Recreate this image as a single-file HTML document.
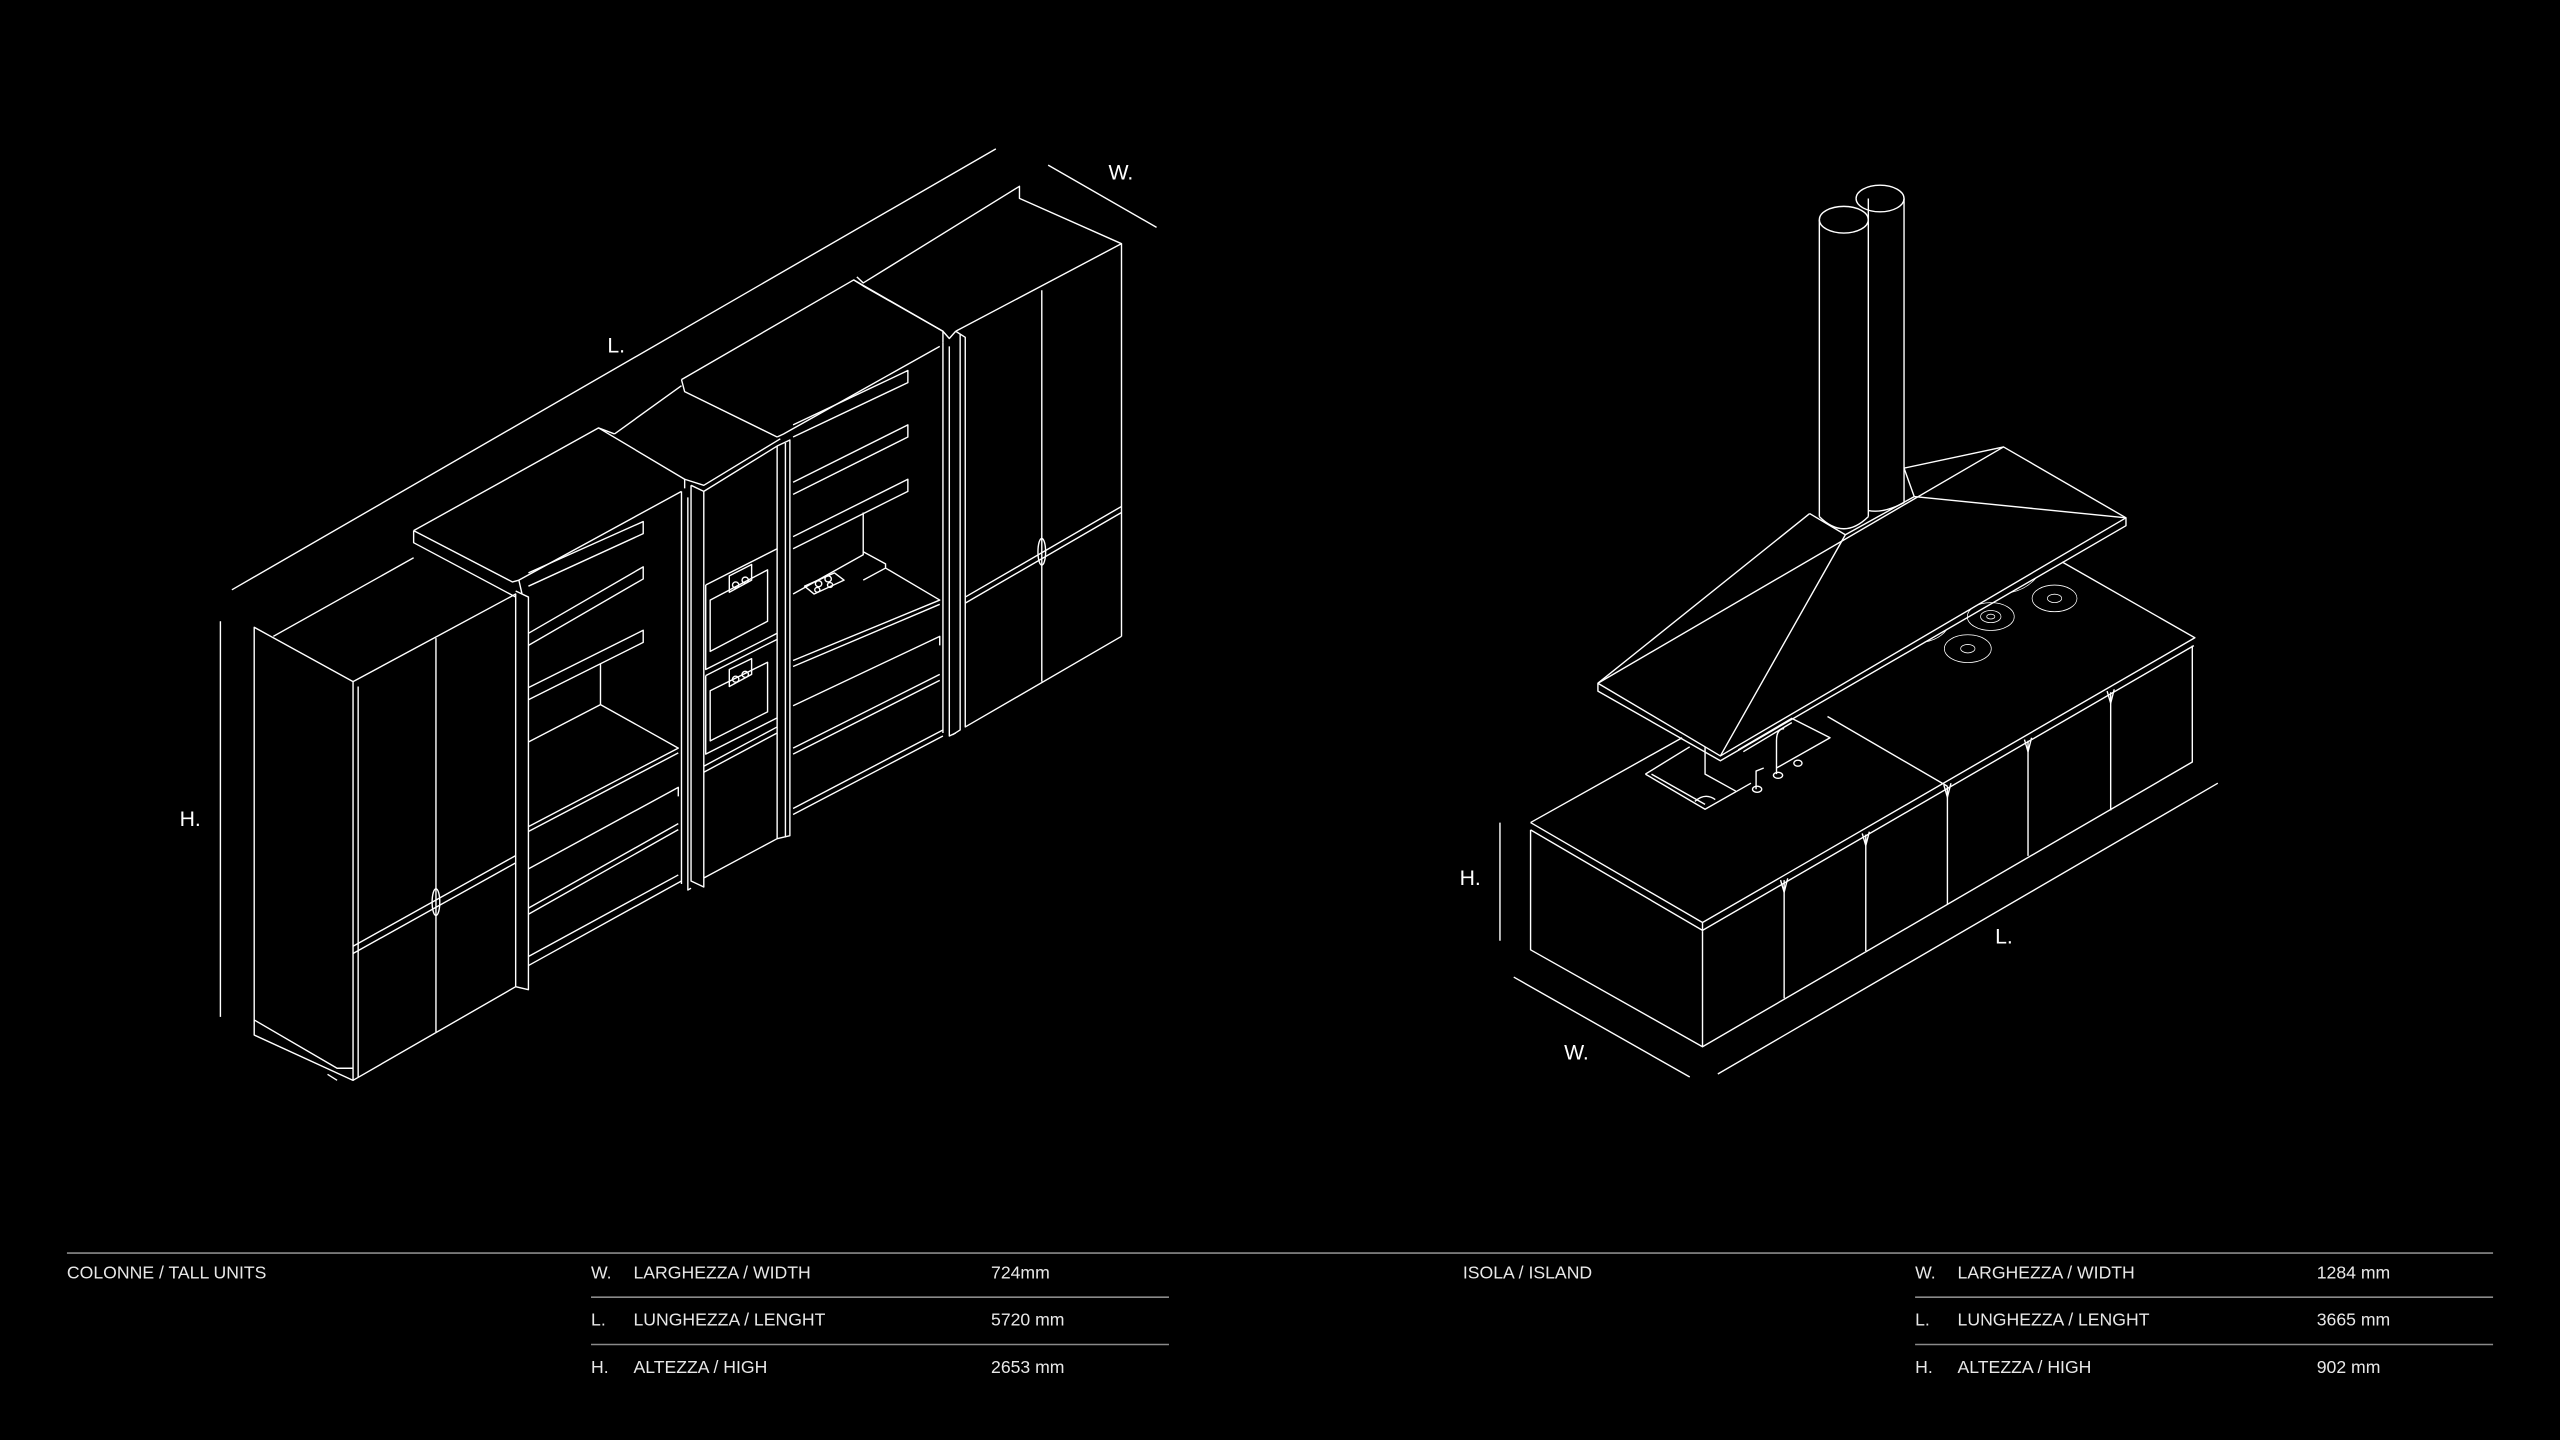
<!DOCTYPE html>
<html><head><meta charset="utf-8"><style>
html,body{margin:0;padding:0;background:#000;width:2560px;height:1440px;overflow:hidden}
svg{display:block}
.l{fill:none;stroke:#fff;stroke-width:1.4;vector-effect:non-scaling-stroke;stroke-linejoin:round}
.t{fill:#fff;font-family:"Liberation Sans",sans-serif}
.tb{fill:#e8e8e8;font-family:"Liberation Sans",sans-serif;font-size:10.8px;letter-spacing:0}
.g{stroke:#8a8a8a;stroke-width:1.6;vector-effect:non-scaling-stroke}
</style></head><body>
<svg width="2560" height="1440" viewBox="0 0 1568 882" xmlns="http://www.w3.org/2000/svg">
<rect width="1568" height="882" fill="#000"/>

<g transform="translate(122.5,91.9) scale(0.3906,0.370)">
 <path class="l" d="M50 728 L1248 -2 M1330 25 L1500 128 M32 780 L32 1435"/>
 <path class="l" d="M85 790 L240 880 L240 1540 L85 1465 Z M85 1440 L215 1520 L240 1520 M200 1530 L215 1540"/>
 <path class="l" d="M115 805 L335 675 M240 880 L495 735 L495 1385 L240 1540 M248 888 L248 1535"/>
 <path class="l" d="M370 808 L370 1460 M240 1318 L495 1168 M240 1330 L495 1180"/>
 <ellipse class="l" cx="370" cy="1245" rx="6" ry="22"/>
 <path class="l" d="M335 630 L335 650 L495 740 M335 630 L625 460 L760 545 L760 560 M335 630 L490 715 L500 712 L755 565"/>
 <path class="l" d="M495 730 L515 740 L515 1390 L495 1385 M500 712 L505 735"/>
 <path class="l" d="M515 700 L695 615 L695 635 L515 722 M515 800 L695 690 L695 710 L515 820 M515 890 L695 795 L695 815 L515 910"/>
 <path class="l" d="M628 850 L628 918 L515 980 M628 918 L750 990 L515 1120 M515 1128 L750 998"/>
 <path class="l" d="M515 1190 L750 1055 L750 1070 M515 1255 L750 1115 M515 1265 L750 1125 M515 1335 L750 1200 M515 1350 L755 1210"/>
 <path class="l" d="M755 565 L755 1215 M765 575 L765 1225 L770 1222"/>
 <path class="l" d="M650 470 L755 390 M625 460 L650 470 M770 555 L790 565 L790 1220 L770 1210 L770 555 M790 565 L905 490 L905 1140 L790 1205"/>
 <path class="l" d="M760 545 L790 555 L910 478"/>
 <path class="l" d="M793 720 L905 660 M793 720 L793 860 L905 800 M800 745 L890 695 L890 780 L800 830 Z M793 870 L905 810 M793 870 L793 1000 L905 940 M800 895 L890 848 L890 930 L800 978 Z M790 1030 L905 965 M790 1020 L905 955"/>
 <path class="l" d="M830 705 L865 686 L865 712 L830 732 Z M830 860 L865 842 L865 868 L830 888 Z"/>
 <circle class="l" cx="840" cy="720" r="5"/><circle class="l" cx="855" cy="712" r="5"/>
 <circle class="l" cx="840" cy="876" r="5"/><circle class="l" cx="855" cy="868" r="5"/>
 <path class="l" d="M755 380 L760 400 L905 475 M755 380 L1025 215 L1165 300 L1165 318 M905 475 L915 470 L1160 325"/>
 <path class="l" d="M905 490 L925 480 L925 1135 L905 1140 M918 485 L918 1138"/>
 <path class="l" d="M930 455 L1110 365 L1110 385 L930 475 M930 550 L1110 455 L1110 475 L930 570 M930 640 L1110 545 L1110 565 L930 660"/>
 <path class="l" d="M1040 600 L1040 670 L930 735 M1040 665 L1075 685 L1075 692 L1040 712 M1075 692 L1160 745 L930 845 M930 855 L1160 752"/>
 <path class="l" d="M948 722 L995 700 L1010 712 L963 735 Z"/>
 <circle class="l" cx="970" cy="718" r="5"/><circle class="l" cx="985" cy="710" r="5"/><circle class="l" cx="968" cy="728" r="4"/><circle class="l" cx="988" cy="720" r="4"/>
 <path class="l" d="M930 920 L1160 805 L1160 820 M930 990 L1160 868 M930 1000 L1160 878 M930 1090 L1165 960 M930 1100 L1165 970"/>
 <path class="l" d="M1165 318 L1165 965 M1175 325 L1175 970 L1185 965"/>
 <path class="l" d="M1025 215 L1040 225 L1165 300 L1175 312 L1185 300 M1030 210 L1040 220 L1285 60 L1285 80 L1445 155 L1445 805 M1185 300 L1445 155"/>
 <path class="l" d="M1185 300 L1200 310 L1200 955 L1445 805 M1192 305 L1192 960 L1180 968"/>
 <path class="l" d="M1320 232 L1320 880 M1200 740 L1445 590 M1200 750 L1445 600"/>
 <ellipse class="l" cx="1320" cy="665" rx="6" ry="22"/>
</g>
<text class="t" x="372" y="216" font-size="13">L.</text>
<text class="t" x="679" y="110" font-size="13">W.</text>
<text class="t" x="110" y="506" font-size="13">H.</text>

<g transform="translate(888.1,91.9) scale(0.3125,0.3711)">
 <path class="l" d="M98 1110 L98 1305 M125 1365 L470 1530 M525 1525 L1505 1045"/>
 <ellipse class="l" cx="843" cy="80" rx="47" ry="22"/>
 <path class="l" d="M890 80 L890 582 M820 80 L820 115 M820 595 Q850 600 890 582"/>
 <ellipse class="l" cx="772" cy="115" rx="48" ry="22"/>
 <path class="l" d="M724 115 L724 605 M820 115 L820 605 M724 605 Q772 645 820 605"/>
 <path class="l" d="M705 600 L775 635 L910 572 L890 525 M705 600 L290 880 M775 635 L530 1000 M910 572 L1325 607 M890 525 L1085 490"/>
 <path class="l" d="M290 880 L1085 490 L1325 607 L530 1000 Z M290 880 L290 893 L530 1008 L1325 620 L1325 607"/>
 <path class="l" d="M158 1110 L455 970 M1200 680 L1460 805 L495 1275 L158 1110 M158 1122 L495 1288 L1458 818 M495 1275 L495 1290"/>
 <path class="l" d="M158 1122 L158 1320 L495 1480 L1455 1010 L1455 818 M495 1290 L495 1480"/>
 <path class="l" d="M740 935 L975 1050"/>
 <path class="l" d="M655 1205 L655 1400 M815 1130 L815 1322 M975 1050 L975 1245 M1133 975 L1133 1165 M1295 895 L1295 1090"/>
 <path class="l" d="M648 1205 L655 1225 L662 1202 M808 1128 L815 1148 L822 1125 M968 1048 L975 1068 L982 1045 M1126 973 L1133 993 L1140 970 M1288 893 L1295 913 L1302 890"/>
 <path class="l" d="M383 1030 L500 1088 L590 1045 M383 1030 L470 985 M395 1030 L500 1080 M500 985 L500 1030 L560 1058 M480 1075 Q500 1060 520 1072"/>
 <path class="l" d="M565 990 L670 938 L745 970 L640 1020 M575 993 L670 945"/>
 <path class="l" d="M640 1030 L640 975 Q640 955 655 955 M600 1055 L600 1025 L615 1020 M682 1012 m-8 0 a8 5 0 1 0 16 0 a8 5 0 1 0 -16 0"/>
 <ellipse class="l" cx="643" cy="1032" rx="9" ry="5"/><ellipse class="l" cx="602" cy="1055" rx="9" ry="5"/>
 <g class="l">
  <ellipse cx="1015" cy="823" rx="46" ry="23"/><ellipse cx="1015" cy="823" rx="14" ry="7"/>
  <ellipse cx="1060" cy="770" rx="46" ry="23"/><ellipse cx="1060" cy="770" rx="20" ry="10"/><ellipse cx="1060" cy="770" rx="8" ry="4"/>
  <ellipse cx="1185" cy="740" rx="44" ry="22"/><ellipse cx="1185" cy="740" rx="14" ry="7"/>
  <path d="M930 812 Q960 808 975 790 M1100 730 Q1130 725 1150 705"/>
 </g>
</g>
<text class="t" x="894" y="542" font-size="13">H.</text>
<text class="t" x="958" y="649" font-size="13">W.</text>
<text class="t" x="1222" y="578" font-size="13">L.</text>

<line class="g" x1="41" y1="767.5" x2="1527" y2="767.5"/>
<line class="g" x1="362" y1="794.5" x2="716" y2="794.5"/>
<line class="g" x1="362" y1="823.5" x2="716" y2="823.5"/>
<line class="g" x1="1173" y1="794.5" x2="1527" y2="794.5"/>
<line class="g" x1="1173" y1="823.5" x2="1527" y2="823.5"/>
<text class="tb" x="41" y="783">COLONNE / TALL UNITS</text>
<text class="tb" x="362" y="783">W.</text><text class="tb" x="388" y="783">LARGHEZZA / WIDTH</text><text class="tb" x="607" y="783">724mm</text>
<text class="tb" x="362" y="812">L.</text><text class="tb" x="388" y="812">LUNGHEZZA / LENGHT</text><text class="tb" x="607" y="812">5720 mm</text>
<text class="tb" x="362" y="841">H.</text><text class="tb" x="388" y="841">ALTEZZA / HIGH</text><text class="tb" x="607" y="841">2653 mm</text>
<text class="tb" x="896" y="783">ISOLA / ISLAND</text>
<text class="tb" x="1173" y="783">W.</text><text class="tb" x="1199" y="783">LARGHEZZA / WIDTH</text><text class="tb" x="1419" y="783">1284 mm</text>
<text class="tb" x="1173" y="812">L.</text><text class="tb" x="1199" y="812">LUNGHEZZA / LENGHT</text><text class="tb" x="1419" y="812">3665 mm</text>
<text class="tb" x="1173" y="841">H.</text><text class="tb" x="1199" y="841">ALTEZZA / HIGH</text><text class="tb" x="1419" y="841">902 mm</text>
</svg>
</body></html>
